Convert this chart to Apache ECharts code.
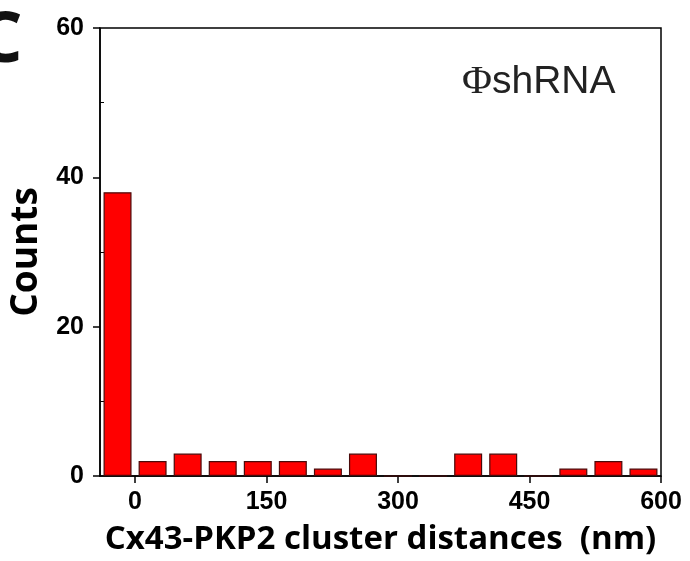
<!DOCTYPE html>
<html>
<head>
<meta charset="utf-8">
<script src="https://cdn.jsdelivr.net/npm/echarts@6/dist/echarts.min.js"></script>
<style>
  html, body { margin: 0; padding: 0; background: #fff; }
  #chart { width: 690px; height: 561px; }
</style>
</head>
<body>
<div id="chart"></div>
<script>
// bin centres (nm) and counts
const binCenters = [-20, 20, 60, 100, 140, 180, 220, 260, 300, 340, 380, 420, 460, 500, 540, 580]
const counts = [38, 2, 3, 2, 2, 2, 1, 3, 0, 0, 3, 3, 0, 1, 2, 1]
const xTicks = [0, 150, 300, 450, 600]

let chart = echarts.init(document.getElementById('chart'))
let options = {
  animation: false,
  grid: {
    left: 100,
    right: 29,
    top: 28,
    bottom: 83,
    show: true,
    borderColor: '#000',
    borderWidth: 1.5
  },
  graphic: [
    {
      type: 'text',
      left: -22,
      top: 7,
      style: {
        text: 'C',
        font: 'bold 70px "Open Sans"',
        fill: '#111'
      }
    },
    {
      type: 'text',
      left: 462,
      top: 62,
      style: {
        text: '{phi|Φ}{t|shRNA}',
        rich: {
          phi: { font: '41px "Liberation Serif"', fill: '#222' },
          t: { font: '39px "Liberation Sans"', fill: '#222' }
        }
      }
    }
  ],
  xAxis: {
    type: 'value',
    min: -40,
    max: 600,
    interval: 10,
    name: 'Cx43-PKP2 cluster distances  (nm)',
    nameLocation: 'middle',
    nameGap: 47,
    nameTextStyle: { fontFamily: 'Open Sans', fontWeight: 'bold', fontSize: 33, color: '#000' },
    axisLine: { onZero: false, lineStyle: { color: '#000', width: 1.5 } },
    axisTick: {
      length: 7,
      lineStyle: { color: '#000', width: 1.5 },
      customValues: xTicks
    },
    axisLabel: {
      fontFamily: 'Liberation Sans',
      fontWeight: 'bold',
      fontSize: 25,
      color: '#000',
      margin: 14,
      customValues: xTicks
    },
    splitLine: { show: false }
  },
  yAxis: {
    type: 'value',
    min: 0,
    max: 60,
    interval: 20,
    name: 'Counts',
    nameLocation: 'middle',
    nameGap: 52,
    nameTextStyle: { fontFamily: 'Open Sans', fontWeight: 'bold', fontSize: 37, color: '#000' },
    axisLine: { show: true, onZero: false, lineStyle: { color: '#000', width: 1.5 } },
    axisTick: { length: 7, lineStyle: { color: '#000', width: 1.5 } },
    minorTick: { show: true, splitNumber: 2, length: -4, lineStyle: { color: '#000', width: 1 } },
    axisLabel: {
      fontFamily: 'Liberation Sans',
      fontWeight: 'bold',
      fontSize: 25,
      color: '#000',
      margin: 16
    },
    splitLine: { show: false }
  },
  series: [
    {
      type: 'bar',
      barWidth: 28,
      data: binCenters.map((c, i) => [c, counts[i]]),
      itemStyle: {
        color: '#ff0000',
        borderColor: '#4a0a0a',
        borderWidth: 1.2
      }
    }
  ]
}
chart.setOption(options)
</script>
</body>
</html>
